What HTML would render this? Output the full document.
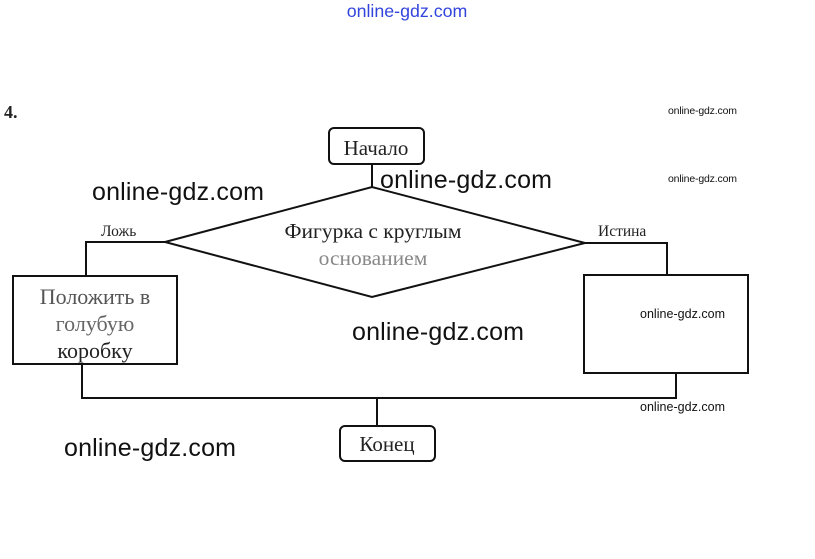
<!DOCTYPE html>
<html><head><meta charset="utf-8"><style>
body{margin:0;background:#fff;width:815px;height:559px;overflow:hidden}
svg{display:block}
.s{font-family:"Liberation Serif","DejaVu Serif",serif;fill:#222}
.w{font-family:"Liberation Sans","DejaVu Sans",sans-serif;fill:#111}
</style></head><body>
<svg width="815" height="559" viewBox="0 0 815 559">
<text x="407" y="17" text-anchor="middle" class="w" font-size="17.8" style="fill:#3344dd">online-gdz.com</text>
<text x="4" y="118" class="s" font-size="18" font-weight="bold">4.</text>
<g fill="none" stroke="#111" stroke-width="2">
<rect x="329" y="128" width="95" height="36" rx="5"/>
<line x1="372" y1="164" x2="372" y2="187"/>
<polygon points="165,242 372,187 585,243 372,297"/>
<polyline points="165,242 86,242 86,276"/>
<rect x="13" y="276" width="164" height="88"/>
<polyline points="585,243 667,243 667,275"/>
<rect x="584" y="275" width="164" height="98"/>
<line x1="82" y1="364" x2="82" y2="398"/>
<line x1="676" y1="373" x2="676" y2="398"/>
<line x1="81" y1="398" x2="677" y2="398"/>
<line x1="377" y1="398" x2="377" y2="426"/>
<rect x="340" y="426" width="95" height="35" rx="5"/>
</g>
<text x="376" y="155" text-anchor="middle" class="s" font-size="21">Начало</text>
<text x="387" y="451" text-anchor="middle" class="s" font-size="21">Конец</text>
<text x="101" y="236" class="s" font-size="15.5">Ложь</text>
<text x="598" y="236" class="s" font-size="15.5">Истина</text>
<text x="373" y="238" text-anchor="middle" class="s" font-size="21.5">Фигурка с круглым</text>
<text x="373" y="265" text-anchor="middle" class="s" font-size="21.5" style="fill:#888">основанием</text>
<text x="95" y="304" text-anchor="middle" class="s" font-size="22" style="fill:#555">Положить в</text>
<text x="95" y="331" text-anchor="middle" class="s" font-size="22" style="fill:#666">голубую</text>
<text x="95" y="358" text-anchor="middle" class="s" font-size="22">коробку</text>
<g class="w">
<text x="92" y="200" font-size="25" textLength="172">online-gdz.com</text>
<text x="380" y="188" font-size="25" textLength="172">online-gdz.com</text>
<text x="352" y="340" font-size="25" textLength="172">online-gdz.com</text>
<text x="64" y="456" font-size="25" textLength="172">online-gdz.com</text>
<text x="668" y="114" font-size="10.5" textLength="69">online-gdz.com</text>
<text x="668" y="182" font-size="10.5" textLength="69">online-gdz.com</text>
<text x="640" y="318" font-size="12.5" textLength="85">online-gdz.com</text>
<text x="640" y="411" font-size="12.5" textLength="85">online-gdz.com</text>
</g>
</svg>
</body></html>
